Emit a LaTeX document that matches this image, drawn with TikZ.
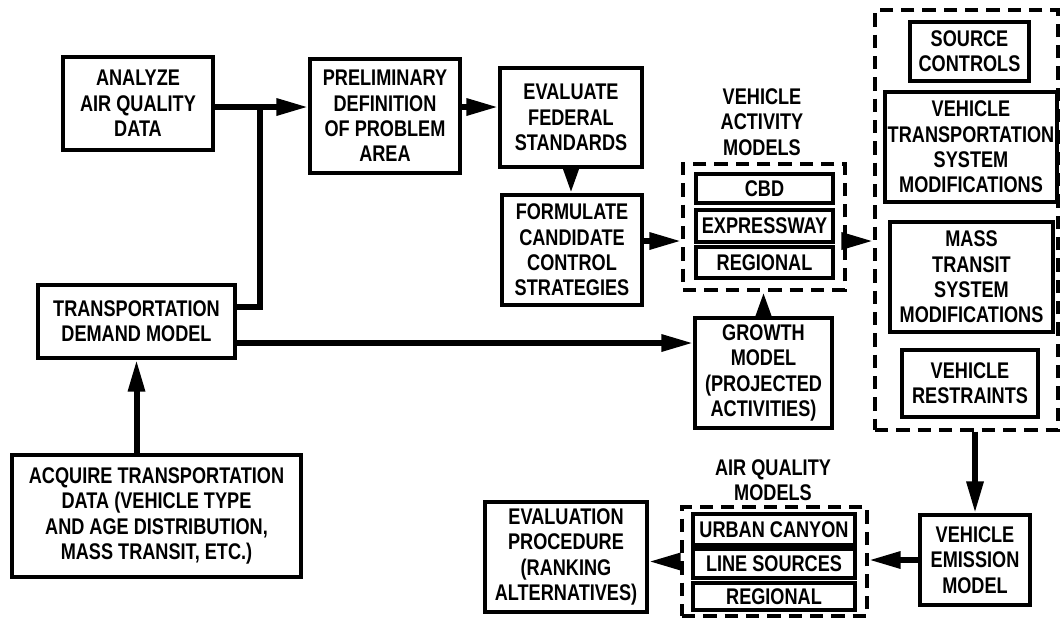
\documentclass[tikz,border=0pt]{standalone}
\usepackage{fontspec}
\setmainfont{Liberation Sans}[FakeStretch=0.8]
\usetikzlibrary{arrows.meta,positioning}
\tikzset{
  every node/.style={font=\bfseries\fontsize{17}{19}\selectfont, align=center, inner sep=0pt},
  boxsize/.style 2 args={minimum width=#1*0.75pt, minimum height=#2*0.75pt},
  stepbox/.style={draw, line width=2.4pt, fill=white},
  groupbox/.style={draw, line width=2.4pt, dash pattern=on 10pt off 6pt},
  flow/.style={-{Triangle[length=24pt,width=12pt]}, line width=4.5pt},
  shortflow/.style={-{Triangle[length=19pt,width=11pt]}, line width=4.5pt},
}

\begin{document}
\begin{tikzpicture}[x=0.75pt,y=-0.75pt]
  \useasboundingbox (0,0) rectangle (1062,618);
  % Input boxes on the left
  \node[stepbox, boxsize={150}{93}] (analyze) at (138,103.5) {ANALYZE\\AIR QUALITY\\DATA};
  \node[stepbox, boxsize={197}{73}] (tdm) at (136.5,321.5) {TRANSPORTATION\\DEMAND MODEL};
  \node[stepbox, boxsize={289}{122}] (acquire) at (156.5,516)
    {ACQUIRE TRANSPORTATION\\DATA (VEHICLE TYPE\\AND AGE DISTRIBUTION,\\MASS TRANSIT, ETC.)};
  % Problem definition chain
  \node[stepbox, boxsize={150}{114}] (prelim) at (385,116) {PRELIMINARY\\DEFINITION\\OF PROBLEM\\AREA};
  \node[stepbox, boxsize={142}{99}] (evalfed) at (571,117.5) {EVALUATE\\FEDERAL\\STANDARDS};
  \node[stepbox, boxsize={140}{110}] (formulate) at (572,250) {FORMULATE\\CANDIDATE\\CONTROL\\STRATEGIES};
  % Vehicle activity models
  \node (vamlabel) at (762,122) {VEHICLE\\ACTIVITY\\MODELS};
  \node[groupbox, boxsize={162}{126}] (vamgroup) at (764,227) {};
  \node[stepbox, boxsize={137}{29}] (cbd) at (764.5,188.5) {CBD};
  \node[stepbox, boxsize={137}{32}] (expressway) at (764.5,226) {EXPRESSWAY};
  \node[stepbox, boxsize={137}{31}] (vregional) at (764.5,262.5) {REGIONAL};
  \node[stepbox, boxsize={137}{110}] (growth) at (763.5,373) {GROWTH\\MODEL\\(PROJECTED\\ACTIVITIES)};
  % Control strategies
  \node[groupbox, boxsize={183}{420}] (controls) at (966.5,220) {};
  \node[stepbox, boxsize={119}{59}] (source) at (969.5,51.5) {SOURCE\\CONTROLS};
  \node[stepbox, boxsize={172}{110}] (vtsm) at (971,147) {VEHICLE\\TRANSPORTATION\\SYSTEM\\MODIFICATIONS};
  \node[stepbox, boxsize={163}{110}] (mtsm) at (971.5,277) {MASS\\TRANSIT\\SYSTEM\\MODIFICATIONS};
  \node[stepbox, boxsize={136}{67}] (restraints) at (970,383.5) {VEHICLE\\RESTRAINTS};
  % Emission and air quality
  \node[stepbox, boxsize={110}{90}] (emission) at (975,560) {VEHICLE\\EMISSION\\MODEL};
  \node (aqlabel) at (773,480) {AIR QUALITY\\MODELS};
  \node[groupbox, boxsize={185}{109}] (aqgroup) at (774.5,561.5) {};
  \node[stepbox, boxsize={162}{31}] (urban) at (774,529.5) {URBAN CANYON};
  \node[stepbox, boxsize={162}{29}] (lines) at (774,563.5) {LINE SOURCES};
  \node[stepbox, boxsize={162}{27}] (aregional) at (774,596.5) {REGIONAL};
  \node[stepbox, boxsize={162}{110}] (evalproc) at (566,557) {EVALUATION\\PROCEDURE\\(RANKING\\ALTERNATIVES)};
  % Connector rows
  \coordinate (rowA) at (260,107);
  \coordinate (rowB) at (0,241);
  \coordinate (rowC) at (0,343);
  \coordinate (rowD) at (0,307);
  % Connectors
  \draw[flow] (analyze.east |- rowA) -- (prelim.west |- rowA);
  \draw[line width=4.5pt, line cap=rect] (tdm.east |- rowD) -| (rowA);
  \draw[flow] (prelim.east |- rowA) -- (evalfed.west |- rowA);
  \draw[shortflow] (evalfed.south) -- (formulate.north -| evalfed.south);
  \draw[flow] (formulate.east |- rowB) -- (vamgroup.west |- rowB);
  \draw[flow] (vamgroup.east |- rowB) -- (controls.west |- rowB);
  \draw[shortflow] (growth.north) -- (vamgroup.south -| growth.north);
  \draw[flow] (tdm.east |- rowC) -- (growth.west |- rowC);
  \draw[flow] (acquire.north -| tdm.south) -- (tdm.south);
  \draw[flow] (controls.south -| emission.north) -- (emission.north);
  \draw[flow] (emission.west) -- (aqgroup.east |- emission.west);
  \draw[flow] (aqgroup.west) -- (evalproc.east |- aqgroup.west);
\end{tikzpicture}
\end{document}
